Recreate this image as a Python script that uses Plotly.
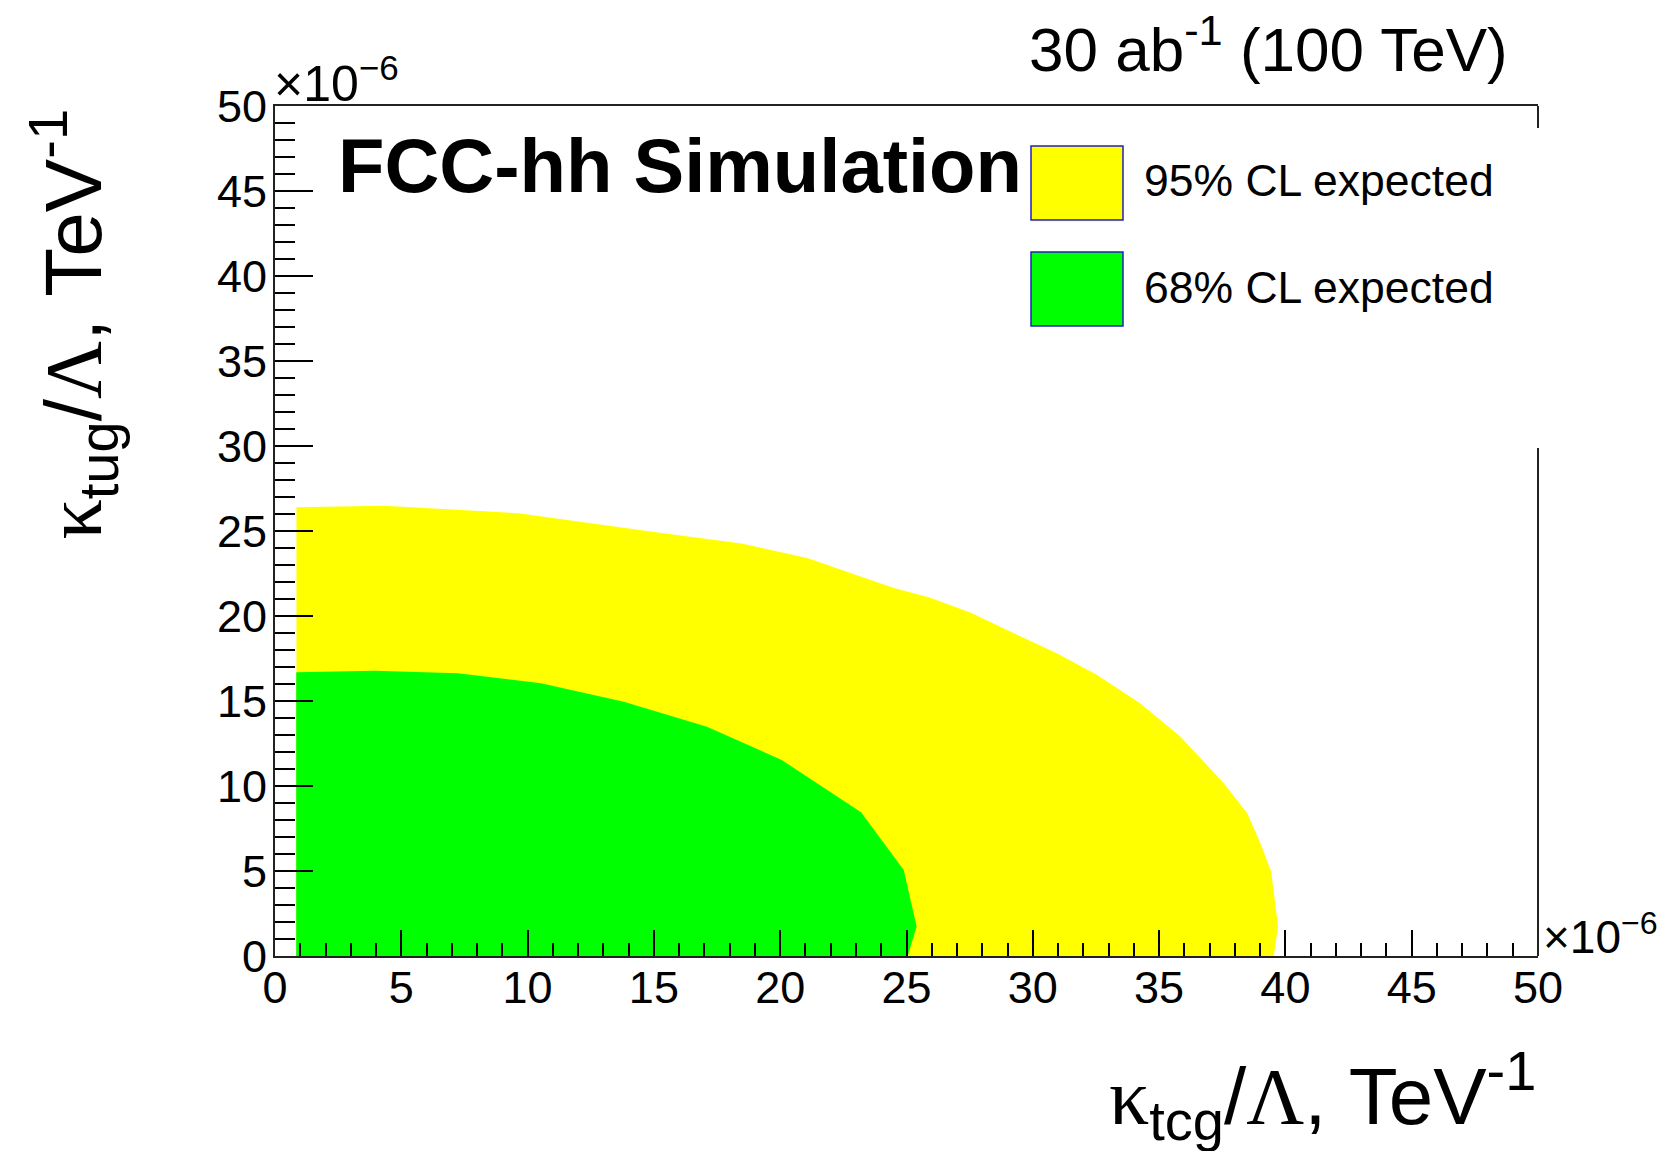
import plotly.graph_objects as go

# values in units of 1e-6 TeV^-1
yellow_x = [0.85, 0.85, 4.33, 9.64, 14.94, 18.47, 21.1, 24.5, 25.88, 27.53, 29.25, 30.97,
            32.55, 34.26, 35.85, 37.56, 38.49, 39.01, 39.44, 39.71, 39.54]
yellow_y = [0.0, 26.4, 26.49, 26.04, 24.96, 24.27, 23.39, 21.65, 21.1, 20.2, 18.98, 17.8,
            16.53, 14.86, 12.9, 10.16, 8.39, 6.63, 4.96, 1.73, 0.0]
green_x = [0.84, 0.84, 3.96, 7.24, 10.53, 13.81, 17.1, 20.06, 23.2, 24.89, 25.4, 25.05]
green_y = [0.0, 16.69, 16.78, 16.63, 16.04, 14.96, 13.49, 11.53, 8.45, 5.06, 1.73, 0.0]
tick_vals = [0, 5, 10, 15, 20, 25, 30, 35, 40, 45, 50]
tick_text = [str(v) for v in tick_vals]
legend_labels = ["95% CL expected", "68% CL expected"]

W, H = 1667, 1151
L, R, T, B = 275, 129, 106, 195
PW, PH = W - L - R, H - T - B


def px(xp):
    return (xp - L) / PW


def py(yp):
    return (H - B - yp) / PH


FONT = "Liberation Sans, Arial, sans-serif"

fig = go.Figure()
fig.add_trace(go.Scatter(x=yellow_x, y=yellow_y, fill="toself", fillcolor="#FFFF00",
                         mode="none", showlegend=False, hoverinfo="skip"))
fig.add_trace(go.Scatter(x=green_x, y=green_y, fill="toself", fillcolor="#00FF00",
                         mode="none", showlegend=False, hoverinfo="skip"))

axis_common = dict(range=[0, 50], tickvals=tick_vals, ticktext=tick_text, ticks="inside",
                   tickcolor="black", tickwidth=1.6, showgrid=False, zeroline=False,
                   showline=True, linecolor="#222222", linewidth=2,
                   tickfont=dict(family=FONT, size=45, color="black"))

fig.update_xaxes(**axis_common, ticklen=26, mirror=True, ticklabelstandoff=-9,
                 minor=dict(dtick=1, tick0=0, ticks="inside", ticklen=13, tickcolor="black",
                            tickwidth=1.6, showgrid=False))
fig.update_yaxes(**axis_common, ticklen=38, ticklabelstandoff=-3,
                 minor=dict(dtick=1, tick0=0, ticks="inside", ticklen=20, tickcolor="black",
                            tickwidth=1.6, showgrid=False))

shapes = [
    dict(type="line", xref="paper", yref="paper", x0=1, x1=1, y0=1, y1=py(128),
         line=dict(color="#222222", width=2)),
    dict(type="line", xref="paper", yref="paper", x0=1, x1=1, y0=py(448), y1=0,
         line=dict(color="#222222", width=2)),
    dict(type="rect", xref="paper", yref="paper", x0=px(1031), x1=px(1123), y0=py(220), y1=py(146),
         fillcolor="#FFFF00", line=dict(color="#2020c0", width=1.5)),
    dict(type="rect", xref="paper", yref="paper", x0=px(1031), x1=px(1123), y0=py(326), y1=py(252),
         fillcolor="#00FF00", line=dict(color="#2020c0", width=1.5)),
]

ann = []
ann.append(dict(text=legend_labels[0], xref="paper", yref="paper", x=px(1142), y=py(180),
                xanchor="left", yanchor="middle", showarrow=False,
                font=dict(family=FONT, size=44.5, color="black")))
ann.append(dict(text=legend_labels[1], xref="paper", yref="paper", x=px(1142), y=py(287),
                xanchor="left", yanchor="middle", showarrow=False,
                font=dict(family=FONT, size=44.5, color="black")))
ann.append(dict(text="<b>FCC-hh Simulation</b>", xref="paper", yref="paper", x=px(336), y=py(165),
                xanchor="left", yanchor="middle", showarrow=False,
                font=dict(family=FONT, size=76, color="black")))
ann.append(dict(text="30 ab<sup>-1</sup> (100 TeV)", xref="paper", yref="paper", x=px(1510), y=py(45),
                xanchor="right", yanchor="middle", showarrow=False,
                font=dict(family=FONT, size=62, color="black")))
ann.append(dict(text="×10<sup>−6</sup>", xref="paper", yref="paper", x=px(272), y=py(80),
                xanchor="left", yanchor="middle", showarrow=False,
                font=dict(family=FONT, size=50, color="black")))
ann.append(dict(text="×10<sup>−6</sup>", xref="paper", yref="paper", x=px(1541), y=py(934),
                xanchor="left", yanchor="middle", showarrow=False,
                font=dict(family=FONT, size=46, color="black")))
xtitle = ("<span style='font-family:Liberation Serif'>κ</span><sub>tcg</sub>/"
          "<span style='font-family:Liberation Serif'>Λ</span>, TeV<sup>-1</sup>")
ytitle = ("<span style='font-family:Liberation Serif'>κ</span><sub>tug</sub>/"
          "<span style='font-family:Liberation Serif'>Λ</span>, TeV<sup>-1</sup>")
ann.append(dict(text=xtitle, xref="paper", yref="paper", x=1.0, y=py(1095),
                xanchor="right", yanchor="middle", showarrow=False,
                font=dict(family=FONT, size=80, color="black")))
ann.append(dict(text=ytitle, xref="paper", yref="paper", x=px(73), y=py(107),
                xanchor="center", yanchor="top", textangle=-90, showarrow=False,
                font=dict(family=FONT, size=80, color="black")))

fig.update_layout(width=W, height=H, margin=dict(l=L, r=R, t=T, b=B, pad=0),
                  paper_bgcolor="white", plot_bgcolor="white", shapes=shapes,
                  annotations=ann, showlegend=False)

fig.write_html("out.html", config={"displayModeBar": False},
               post_script="document.body.style.margin='0';")
